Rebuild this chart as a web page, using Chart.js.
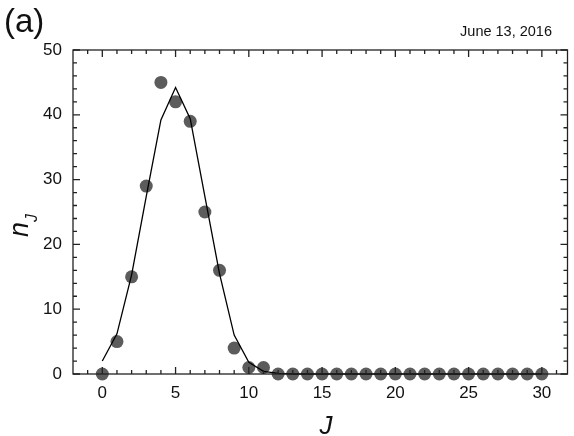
<!DOCTYPE html>
<html>
<head>
<meta charset="utf-8">
<script src="https://cdn.jsdelivr.net/npm/chart.js@4"></script>
<style>
  html, body { margin: 0; padding: 0; background: #fff; }
  #wrap { width: 574px; height: 436px; }
</style>
</head>
<body>
<div id="wrap"><canvas id="nChart" width="574" height="436"></canvas></div>
<script>
// measured populations n_J (dots)
var jValues = [0, 1, 2, 3, 4, 5, 6, 7, 8, 9, 10, 11, 12, 13, 14, 15, 16, 17, 18, 19, 20, 21, 22, 23, 24, 25, 26, 27, 28, 29, 30];
var nMeasured = [0, 5, 15, 29, 45, 42, 39, 25, 16, 4, 1, 1, 0, 0, 0, 0, 0, 0, 0, 0, 0, 0, 0, 0, 0, 0, 0, 0, 0, 0, 0];
// fitted curve
var nFit = [2.0, 6.2, 15.3, 27.4, 39.2, 44.2, 39.4, 27.4, 15.5, 6.0, 1.8, 0.4, 0.1, 0, 0, 0, 0, 0, 0, 0, 0, 0, 0, 0, 0, 0, 0, 0, 0, 0, 0];
var xTicks = [0, 5, 10, 15, 20, 25, 30];
var yTicks = [0, 10, 20, 30, 40, 50];

var FONT = '"Liberation Sans", Arial, sans-serif';
var AXIS_COLOR = '#222222';

function toPoints(ys) {
    return jValues.map(function (j, i) { return { x: j, y: ys[i] }; });
}

// frame, inward ticks and titles
var framePlugin = {
    id: 'frame',
    afterDraw: function (chart) {
        var ctx = chart.ctx;
        var area = chart.chartArea;
        var xs = chart.scales.x;
        var ys = chart.scales.y;
        ctx.save();
        ctx.strokeStyle = AXIS_COLOR;
        ctx.lineWidth = 1.3;
        ctx.strokeRect(area.left, area.top, area.right - area.left, area.bottom - area.top);

        ctx.beginPath();
        for (var v = -1; v <= 31; v++) {
            var px = xs.getPixelForValue(v);
            var len = (v % 5 === 0) ? 7 : 4;
            ctx.moveTo(px, area.bottom); ctx.lineTo(px, area.bottom - len);
            ctx.moveTo(px, area.top); ctx.lineTo(px, area.top + len);
        }
        for (var w = 0; w <= 50; w += 2) {
            var py = ys.getPixelForValue(w);
            var l2 = (w % 10 === 0) ? 7 : 4;
            ctx.moveTo(area.left, py); ctx.lineTo(area.left + l2, py);
            ctx.moveTo(area.right, py); ctx.lineTo(area.right - l2, py);
        }
        ctx.stroke();

        ctx.fillStyle = '#111';
        ctx.textBaseline = 'alphabetic';
        ctx.textAlign = 'left';
        ctx.font = '33px ' + FONT;
        ctx.fillText('(a)', 4, 32);

        ctx.font = '14.5px ' + FONT;
        ctx.textAlign = 'right';
        ctx.fillText('June 13, 2016', 552, 36);

        // x title
        ctx.font = 'italic 26px ' + FONT;
        ctx.textAlign = 'center';
        ctx.fillText('J', 326, 434);

        // y title n_J
        ctx.translate(28, 237);
        ctx.rotate(-Math.PI / 2);
        ctx.textAlign = 'left';
        ctx.font = 'italic 27px ' + FONT;
        var nw = ctx.measureText('n').width;
        ctx.fillText('n', 0, 0);
        ctx.font = 'italic 16px ' + FONT;
        ctx.fillText('J', nw, 9);
        ctx.restore();
    }
};

var ctx = document.getElementById('nChart').getContext('2d');
var nChart = new Chart(ctx, {
    type: 'scatter',
    data: {
        datasets: [{
            label: 'fit',
            data: toPoints(nFit),
            showLine: true,
            borderColor: '#000000',
            borderWidth: 1.3,
            pointRadius: 0,
            tension: 0,
            clip: false
        }, {
            label: 'measured',
            data: toPoints(nMeasured),
            showLine: false,
            pointRadius: 6.5,
            pointBackgroundColor: '#5c5c5c',
            pointBorderWidth: 0,
            clip: false
        }]
    },
    options: {
        responsive: false,
        animation: false,
        events: [],
        layout: { padding: { top: 50, right: 2, left: 0, bottom: 0 } },
        plugins: {
            legend: { display: false },
            tooltip: { enabled: false }
        },
        scales: {
            x: {
                type: 'linear',
                min: -2,
                max: 31.75,
                grid: { display: false, drawTicks: false },
                border: { display: false },
                afterBuildTicks: function (scale) {
                    scale.ticks = xTicks.map(function (v) { return { value: v }; });
                },
                afterFit: function (scale) { scale.height = 62; },
                ticks: {
                    padding: 9,
                    color: '#111',
                    maxRotation: 0,
                    font: { family: FONT, size: 17 }
                }
            },
            y: {
                type: 'linear',
                min: 0,
                max: 50,
                grid: { display: false, drawTicks: false },
                border: { display: false },
                afterBuildTicks: function (scale) {
                    scale.ticks = yTicks.map(function (v) { return { value: v }; });
                },
                afterFit: function (scale) { scale.width = 73; },
                ticks: {
                    padding: 11,
                    color: '#111',
                    font: { family: FONT, size: 17 }
                }
            }
        }
    },
    plugins: [framePlugin]
});
</script>
</body>
</html>
